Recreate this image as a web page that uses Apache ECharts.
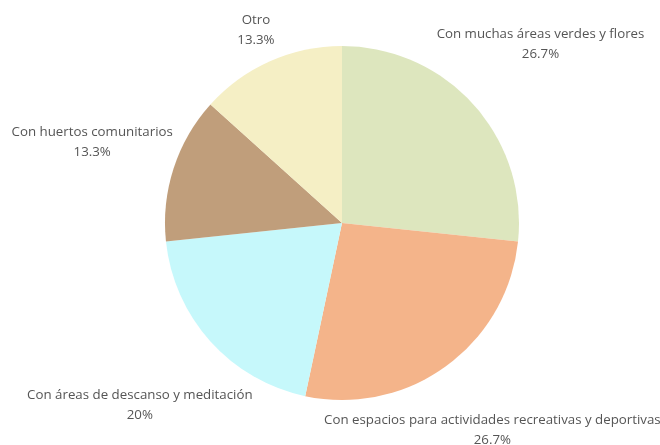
<!DOCTYPE html>
<html>
<head>
<meta charset="utf-8">
<script src="https://cdn.jsdelivr.net/npm/echarts@6/dist/echarts.min.js"></script>
<style>
  html, body { margin: 0; padding: 0; background: #ffffff; }
  #chart { width: 660px; height: 445px; }
</style>
</head>
<body>
<div id="chart"></div>
<script>
// Preferences for green spaces (share of answers)
const categories = [
  'Con muchas áreas verdes y flores',
  'Con espacios para actividades recreativas y deportivas',
  'Con áreas de descanso y meditación',
  'Con huertos comunitarios',
  'Otro'
];
const counts = [4, 4, 3, 2, 2];
const colors = ['#dde6be', '#f4b48a', '#c6f8fb', '#c09e7b', '#f5efc5'];

const total = counts.reduce((a, b) => a + b, 0);
const pct = v => Math.round(v / total * 1000) / 10;

// pie geometry in pixels
const CX = 342, CY = 223, R = 177;
// clearance between the pie edge and a label box, horizontally / vertically
const GAP_X = 2, GAP_Y = 10;

// mid-angle of each slice, clockwise from 12 o'clock
const midAngles = [];
{
  let acc = 0;
  counts.forEach(v => {
    const a0 = acc / total * 2 * Math.PI;
    acc += v;
    const a1 = acc / total * 2 * Math.PI;
    midAngles.push((a0 + a1) / 2);
  });
}

// Push a label box outward along the slice's mid-angle until it no longer
// overlaps a clearance ellipse drawn around the pie.
function placeLabel(idx, w, h) {
  const ux = Math.sin(midAngles[idx]);
  const uy = -Math.cos(midAngles[idx]);
  const ax = R + GAP_X, ay = R + GAP_Y;
  const reach = t => {
    const bx = CX + ux * t, by = CY + uy * t;
    const dx = Math.max(Math.abs(bx - CX) - w / 2, 0);
    const dy = Math.max(Math.abs(by - CY) - h / 2, 0);
    return Math.hypot(dx / ax, dy / ay);
  };
  let lo = 0, hi = 1000;
  for (let i = 0; i < 60; i++) {
    const mid = (lo + hi) / 2;
    if (reach(mid) < 1) lo = mid; else hi = mid;
  }
  return { x: CX + ux * hi, y: CY + uy * hi };
}

const chart = echarts.init(document.getElementById('chart'), null, { renderer: 'canvas' });

chart.setOption({
  backgroundColor: '#ffffff',
  animation: false,
  series: [{
    type: 'pie',
    center: [CX, CY],
    radius: R,
    startAngle: 90,
    clockwise: true,
    silent: true,
    data: categories.map((name, i) => ({
      name: name,
      value: counts[i],
      itemStyle: { color: colors[i] }
    })),
    itemStyle: { borderWidth: 0 },
    label: {
      show: true,
      position: 'outside',
      alignTo: 'none',
      overflow: 'none',
      fontFamily: '"Open Sans", sans-serif',
      fontSize: 13.3,
      lineHeight: 20,
      color: '#555555',
      formatter: p => p.name + '\n' + pct(p.value) + '%'
    },
    labelLine: { show: false },
    labelLayout: params => {
      const r = params.labelRect;
      const pos = placeLabel(params.dataIndex, r.width, r.height);
      return { x: pos.x, y: pos.y, align: 'center', verticalAlign: 'middle' };
    }
  }]
});
</script>
</body>
</html>
